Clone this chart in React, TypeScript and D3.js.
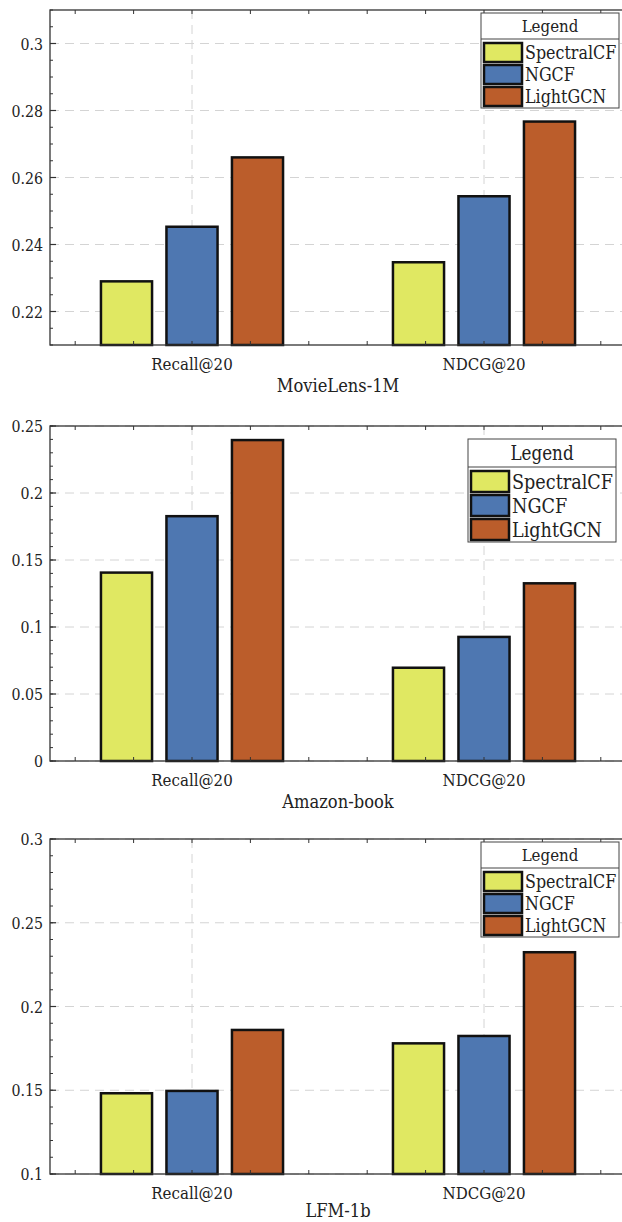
import * as d3 from 'd3';

const metrics = ['Recall@20', 'NDCG@20'];
const models = ['SpectralCF', 'NGCF', 'LightGCN'];
const modelColors = ['#e0e862', '#4e77b1', '#bb5d2b'];

// values per model: [Recall@20, NDCG@20]
const movieLensValues = [
  [0.229, 0.2347],
  [0.2453, 0.2544],
  [0.266, 0.2767],
];
const amazonValues = [
  [0.1406, 0.0696],
  [0.1827, 0.0926],
  [0.2395, 0.1326],
];
const lfmValues = [
  [0.1482, 0.178],
  [0.1496, 0.1824],
  [0.186, 0.2324],
];

const movieLensTicks = [0.22, 0.24, 0.26, 0.28, 0.3];
const amazonTicks = [0, 0.05, 0.1, 0.15, 0.2, 0.25];
const lfmTicks = [0.1, 0.15, 0.2, 0.25, 0.3];

const panels = [
  { title: 'MovieLens-1M', values: movieLensValues, ticks: movieLensTicks, domain: [0.21, 0.31], minor: 0.005, top: 10, titleDy: 47, legend: [481, 13, 138, 95], legendFont: 18.5 },
  { title: 'Amazon-book', values: amazonValues, ticks: amazonTicks, domain: [0, 0.25], minor: 0.01, top: 426, titleDy: 47, legend: [468, 439, 148, 103], legendFont: 20.5 },
  { title: 'LFM-1b', values: lfmValues, ticks: lfmTicks, domain: [0.1, 0.3], minor: 0.01, top: 839, titleDy: 43, legend: [481, 842, 138, 95], legendFont: 18.5 },
];

const W = 622;
const H = 1222;
const panelH = 335;
const left = 50;
const right = 630;
const font = "'DejaVu Serif', serif";
const textColor = '#222';
const axisColor = '#333';
const squeeze = 0.86; // narrower glyphs, closer to the original's serif

// category axis: 1 -> Recall@20, 2 -> NDCG@20
const x = d3.scaleLinear().domain([1, 2]).range([192, 484]);
const barOffset = 0.2243;
const barWidth = 0.175;

function T({ x, y, size, anchor = 'start', children }) {
  return (
    <text
      transform={`translate(${x},${y}) scale(${squeeze},1)`}
      textAnchor={anchor}
      style={{ fontSize: size }}
      fill={textColor}
    >
      {children}
    </text>
  );
}

function Legend({ box, fs }) {
  const [lx, ly, lw, lh] = box;
  const titleH = Math.round(lh * 0.275);
  const rowH = (lh - titleH - 3) / 3;
  return (
    <g>
      <rect x={lx} y={ly} width={lw} height={lh} fill="#fff" stroke="#444" strokeWidth={1} />
      <T x={lx + lw / 2} y={ly + titleH - 7} size={fs - 1} anchor="middle">
        Legend
      </T>
      <line x1={lx} x2={lx + lw} y1={ly + titleH} y2={ly + titleH} stroke="#444" strokeWidth={1} />
      {models.map((m, i) => {
        const ry = ly + titleH + 3 + i * rowH;
        return (
          <g key={m}>
            <rect x={lx + 3} y={ry + 1} width={38} height={rowH - 3} fill={modelColors[i]} stroke="#111" strokeWidth={2.5} />
            <T x={lx + 44} y={ry + rowH - 5} size={fs}>
              {m}
            </T>
          </g>
        );
      })}
    </g>
  );
}

function Panel({ p }) {
  const y = d3.scaleLinear().domain(p.domain).range([p.top + panelH, p.top]);
  const bottom = p.top + panelH;
  const minorTicks = d3
    .range(Math.round((p.domain[1] - p.domain[0]) / p.minor) + 1)
    .map(i => p.domain[0] + i * p.minor);
  const xMinor = d3.range(-2, 13).map(i => 0.6 + i * 0.2).filter(v => x(v) > left + 2 && x(v) < right);

  return (
    <g>
      {/* grid */}
      {p.ticks.map(t => (
        <line key={'g' + t} x1={left} x2={right} y1={y(t)} y2={y(t)} stroke="#d4d4d4" strokeWidth={1} strokeDasharray="9,6" />
      ))}
      {[1, 2].map(c => (
        <line key={'v' + c} x1={x(c)} x2={x(c)} y1={p.top} y2={bottom} stroke="#d4d4d4" strokeWidth={1} strokeDasharray="9,6" />
      ))}

      {/* bars */}
      {p.values.map((vals, mi) =>
        vals.map((v, ci) => {
          const cx = x(ci + 1) + (mi - 1) * (x(1 + barOffset) - x(1));
          const bw = x(1 + barWidth) - x(1);
          return (
            <rect
              key={mi + '-' + ci}
              x={cx - bw / 2}
              y={y(v)}
              width={bw}
              height={bottom - y(v)}
              fill={modelColors[mi]}
              stroke="#111"
              strokeWidth={2.5}
            />
          );
        })
      )}

      {/* frame */}
      <rect x={left} y={p.top} width={right - left} height={panelH} fill="none" stroke={axisColor} strokeWidth={1.3} />

      {/* y ticks */}
      {minorTicks.map((t, i) => (
        <g key={'m' + i}>
          <line x1={left} x2={left + 3} y1={y(t)} y2={y(t)} stroke={axisColor} strokeWidth={1} />
          <line x1={right} x2={right - 3} y1={y(t)} y2={y(t)} stroke={axisColor} strokeWidth={1} />
        </g>
      ))}
      {p.ticks.map(t => (
        <g key={'t' + t}>
          <line x1={left} x2={left + 6} y1={y(t)} y2={y(t)} stroke={axisColor} strokeWidth={1.2} />
          <line x1={right} x2={right - 6} y1={y(t)} y2={y(t)} stroke={axisColor} strokeWidth={1.2} />
          <T x={left - 7} y={y(t) + 6} size={16.5} anchor="end">
            {String(t)}
          </T>
        </g>
      ))}

      {/* x ticks */}
      {xMinor.map((v, i) => (
        <g key={'x' + i}>
          <line x1={x(v)} x2={x(v)} y1={bottom} y2={bottom - 4} stroke={axisColor} strokeWidth={1} />
          <line x1={x(v)} x2={x(v)} y1={p.top} y2={p.top + 4} stroke={axisColor} strokeWidth={1} />
        </g>
      ))}
      {metrics.map((m, i) => (
        <T key={m} x={x(i + 1)} y={bottom + 25} size={17.5} anchor="middle">
          {m}
        </T>
      ))}
      <T x={338} y={bottom + p.titleDy} size={19} anchor="middle">
        {p.title}
      </T>

      <Legend box={p.legend} fs={p.legendFont} />
    </g>
  );
}

export default function App() {
  return (
    <svg
      width={W}
      height={H}
      viewBox={`0 0 ${W} ${H}`}
      style={{ position: 'absolute', left: 0, top: 0, background: '#fff', fontFamily: font }}
    >
      <rect x={0} y={0} width={W} height={H} fill="#fff" />
      {panels.map(p => (
        <Panel key={p.title} p={p} />
      ))}
    </svg>
  );
}
